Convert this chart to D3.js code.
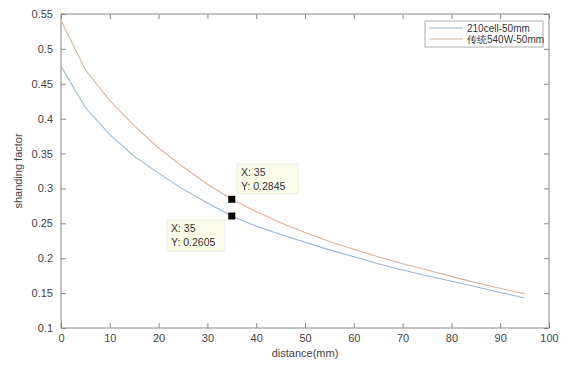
<!DOCTYPE html>
<html><head><meta charset="utf-8">
<script src="https://cdn.jsdelivr.net/npm/d3@7"></script>
<style>body{margin:0;background:#fff;} text{font-family:"Liberation Sans",Arial,sans-serif;}</style>
</head><body>
<svg id="c" width="575" height="366"></svg>
<script>
const distances = [0,5,10,15,20,25,30,35,40,45,50,55,60,65,70,75,80,85,90,95];
const cell210 = [0.475,0.416,0.377,0.346,0.322,0.299,0.279,0.2605,0.246,0.234,0.223,0.212,0.202,0.192,0.183,0.175,0.167,0.159,0.151,0.143];
const w540 = [0.541,0.470,0.426,0.390,0.358,0.331,0.306,0.2845,0.267,0.251,0.237,0.224,0.213,0.202,0.192,0.183,0.174,0.165,0.157,0.149];
const seriesNames = ["210cell-50mm","传统540W-50mm"];
const seriesColors = ["#9ab6d2","#d9b49c"];
const xTicks = [0,10,20,30,40,50,60,70,80,90,100];
const yTicks = [0.1,0.15,0.2,0.25,0.3,0.35,0.4,0.45,0.5,0.55];
const tips = [{x:35,y:0.2845,s:1},{x:35,y:0.2605,s:0}];

const svg = d3.select("#c");
const L=61,R=549,T=14,B=328;
const x = d3.scaleLinear().domain([0,100]).range([L,R]);
const y = d3.scaleLinear().domain([0.1,0.55]).range([B,T]);
const axCol="#888", txtCol="#444";

svg.append("rect").attr("x",L).attr("y",T).attr("width",R-L).attr("height",B-T).attr("fill","#fff").attr("stroke",axCol).attr("stroke-width",1);

function styleAxis(g){g.select(".domain").remove();g.selectAll("line").attr("stroke",axCol);g.selectAll("text").attr("fill",txtCol).style("font-size","11px");}
svg.append("g").attr("transform",`translate(0,${B})`).call(d3.axisBottom(x).tickValues(xTicks).tickSize(-5).tickPadding(6).tickFormat(d3.format("d"))).call(styleAxis);
svg.append("g").attr("transform",`translate(0,${T})`).call(d3.axisTop(x).tickValues(xTicks).tickSize(-5).tickFormat("")).call(styleAxis);
svg.append("g").attr("transform",`translate(${L},0)`).call(d3.axisLeft(y).tickValues(yTicks).tickSize(-5).tickPadding(8).tickFormat(d=>d3.format("")(+d.toFixed(2)))).call(styleAxis);
svg.append("g").attr("transform",`translate(${R},0)`).call(d3.axisRight(y).tickValues(yTicks).tickSize(-5).tickFormat("")).call(styleAxis);

svg.append("text").attr("x",(L+R)/2).attr("y",357).attr("text-anchor","middle").attr("fill",txtCol).style("font-size","11px").text("distance(mm)");
svg.append("text").attr("transform",`translate(22,${(T+B)/2}) rotate(-90)`).attr("text-anchor","middle").attr("fill",txtCol).style("font-size","11px").text("shanding factor");

const line = d3.line().x((d,i)=>x(distances[i])).y(d=>y(d));
[cell210,w540].forEach((s,k)=>{
  svg.append("path").datum(s).attr("d",line).attr("fill","none").attr("stroke",seriesColors[k]).attr("stroke-width",1.1);
});

// legend
const lg = svg.append("g");
lg.append("rect").attr("x",425).attr("y",21).attr("width",118).attr("height",26).attr("fill","#fff").attr("stroke","#999").attr("stroke-width",0.8);
seriesNames.forEach((n,i)=>{
  const yy=28+i*11;
  lg.append("line").attr("x1",429).attr("x2",463).attr("y1",yy).attr("y2",yy).attr("stroke",seriesColors[i]).attr("stroke-width",1.1);
  lg.append("text").attr("x",467).attr("y",yy+3.5).attr("fill","#333").style("font-size","10px").text(n);
});

// data tips
const tipBoxes=[{bx:237,by:164,w:61,h:30},{bx:167,by:220,w:58,h:31}];
tips.forEach((t,i)=>{
  const b=tipBoxes[i];
  svg.append("rect").attr("x",b.bx).attr("y",b.by).attr("width",b.w).attr("height",b.h).attr("fill","#fbfbe9").attr("stroke","#ddd").attr("stroke-width",0.6);
  svg.append("text").attr("x",b.bx+4).attr("y",b.by+12).attr("fill","#333").style("font-size","10.5px").text("X: "+t.x);
  svg.append("text").attr("x",b.bx+4).attr("y",b.by+26).attr("fill","#333").style("font-size","10.5px").text("Y: "+t.y);
  svg.append("rect").attr("x",x(t.x)-3.5).attr("y",y(t.y)-3.5).attr("width",7).attr("height",7).attr("fill","#000");
});
</script>
</body></html>
